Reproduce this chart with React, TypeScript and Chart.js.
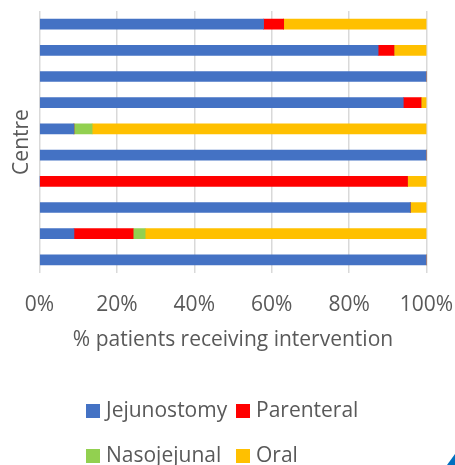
import { useEffect, useRef } from "react";
import { Chart, registerables } from "chart.js";
Chart.register(...registerables);

const centres = ["1", "2", "3", "4", "5", "6", "7", "8", "9", "10"];
const jejunostomy = [57.9, 87.5, 100, 94.0, 8.9, 100, 0, 95.8, 8.9, 100];
const parenteral = [5.2, 4.1, 0, 4.6, 0, 0, 95.1, 0, 15.3, 0];
const nasojejunal = [0, 0, 0, 0, 4.7, 0, 0, 0, 3.1, 0];
const oral = [36.9, 8.4, 0, 1.4, 86.4, 0, 4.9, 4.2, 72.7, 0];
const xTickValues = [0, 20, 40, 60, 80, 100];

const FONT = '"Open Sans", "Noto Sans", sans-serif';
const TEXT = "#595959";

const gridLegend = {
  id: "gridLegend",
  afterDraw(chart: any) {
    const ctx = chart.ctx;
    const cols = [86, 236];
    const rows = [411, 456];
    ctx.save();
    ctx.font = `21px ${FONT}`;
    ctx.textBaseline = "middle";
    ctx.textAlign = "left";
    chart.data.datasets.forEach((d: any, i: number) => {
      const x = cols[i % 2];
      const y = rows[Math.floor(i / 2)];
      ctx.fillStyle = d.backgroundColor;
      ctx.fillRect(x, y - 7, 14, 14);
      ctx.fillStyle = TEXT;
      ctx.fillText(d.label, x + 20, y);
    });
    // small corner marker seen in the reference
    ctx.fillStyle = "#0070C0";
    ctx.beginPath();
    ctx.moveTo(455, 454);
    ctx.lineTo(455, 465);
    ctx.lineTo(447, 465);
    ctx.closePath();
    ctx.fill();
    ctx.restore();
  },
};

export default function App() {
  const ref = useRef<HTMLCanvasElement>(null);
  useEffect(() => {
    if (!ref.current) return;
    const chart = new Chart(ref.current, {
      type: "bar",
      data: {
        labels: centres,
        datasets: [
          { label: "Jejunostomy", data: jejunostomy, backgroundColor: "#4472C4" },
          { label: "Parenteral", data: parenteral, backgroundColor: "#FF0000" },
          { label: "Nasojejunal", data: nasojejunal, backgroundColor: "#92D050" },
          { label: "Oral", data: oral, backgroundColor: "#FFC000" },
        ],
      },
      options: {
        indexAxis: "y",
        animation: false,
        responsive: true,
        maintainAspectRatio: false,
        datasets: { bar: { barThickness: 10 } },
        layout: { padding: { top: 11, left: 0, right: 28.5, bottom: 105 } },
        plugins: { legend: { display: false }, tooltip: { enabled: false } },
        scales: {
          x: {
            stacked: true,
            min: 0,
            max: 100,
            afterBuildTicks: (s: any) => {
              s.ticks = xTickValues.map((v) => ({ value: v }));
            },
            afterFit: (s: any) => {
              s.height = 87;
              s.paddingLeft = 0;
              s.paddingRight = 0;
            },
            border: { display: false },
            grid: { color: "#d9d9d9", lineWidth: 1.5, drawTicks: false },
            ticks: {
              padding: 19,
              color: TEXT,
              font: { family: FONT, size: 21 },
              callback: (v: any) => v + "%",
            },
            title: {
              display: true,
              text: "% patients receiving intervention",
              color: TEXT,
              font: { family: FONT, size: 21 },
              padding: { top: 0, bottom: 7 },
            },
          },
          y: {
            stacked: true,
            afterFit: (s: any) => {
              s.width = 39.5;
            },
            border: { display: false },
            grid: { display: false, drawTicks: false },
            ticks: { display: false },
            title: {
              display: true,
              text: "Centre",
              color: TEXT,
              font: { family: FONT, size: 21 },
              padding: { top: 9, bottom: 0 },
            },
          },
        },
      },
      plugins: [gridLegend],
    });
    return () => chart.destroy();
  }, []);
  return (
    <div style={{ position: "fixed", left: 0, top: 0, width: 455, height: 465, background: "#fff" }}>
      <canvas ref={ref} />
    </div>
  );
}
